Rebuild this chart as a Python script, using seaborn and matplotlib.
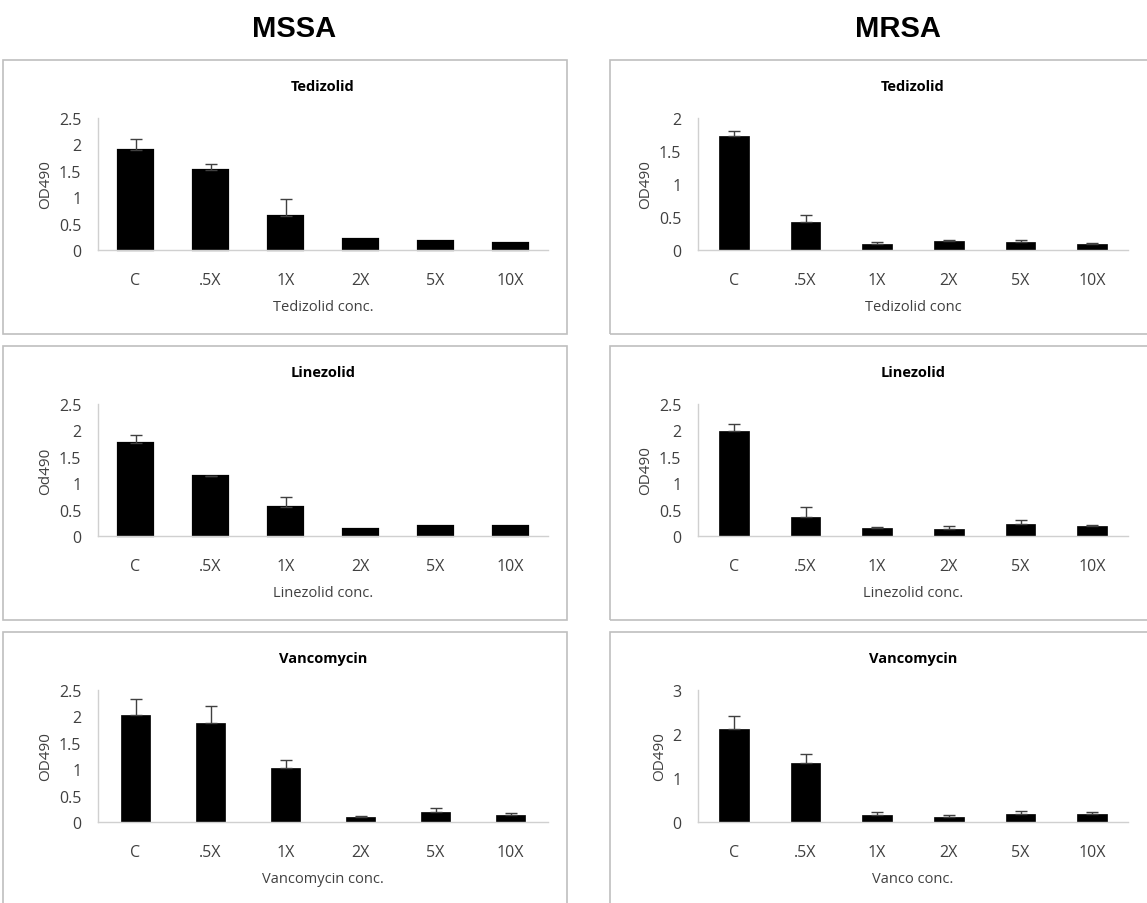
import numpy as np
import pandas as pd
import seaborn as sns
import matplotlib.pyplot as plt
from matplotlib.patches import Rectangle
from matplotlib.ticker import FuncFormatter, MultipleLocator

conc = ['C', '.5X', '1X', '2X', '5X', '10X']

# MSSA
mssa_ted = [1.89, 1.52, 0.65, 0.20, 0.165, 0.13]
mssa_ted_err = [0.21, 0.11, 0.31, 0.0, 0.0, 0.0]
mssa_lin = [1.76, 1.13, 0.54, 0.125, 0.19, 0.19]
mssa_lin_err = [0.16, 0.013, 0.19, 0.0, 0.0, 0.0]
mssa_van = [2.03, 1.87, 1.02, 0.095, 0.18, 0.13]
mssa_van_err = [0.30, 0.32, 0.145, 0.025, 0.085, 0.035]

# MRSA
mrsa_ted = [1.73, 0.42, 0.096, 0.137, 0.116, 0.096]
mrsa_ted_err = [0.08, 0.11, 0.02, 0.02, 0.03, 0.01]
mrsa_lin = [1.98, 0.36, 0.15, 0.13, 0.22, 0.183]
mrsa_lin_err = [0.145, 0.19, 0.025, 0.05, 0.09, 0.03]
mrsa_van = [2.11, 1.34, 0.16, 0.114, 0.175, 0.175]
mrsa_van_err = [0.29, 0.20, 0.06, 0.04, 0.07, 0.045]

sns.set_style('white')
plt.rcParams['font.family'] = ['Open Sans', 'DejaVu Sans']
plt.rcParams['text.color'] = 'black'

W, H = 1147, 904
fig = plt.figure(figsize=(W / 100, H / 100), dpi=100)


def fx(px):
    return px / W


def fy(py):
    return 1 - py / H


# panel frames (light gray boxes)
for x0, x1 in [(3, 567), (610, 1152)]:
    for y0, y1 in [(61, 335), (347, 621), (633, 910)]:
        fig.patches.append(Rectangle((fx(x0), fy(y1)), fx(x1 - x0), (y1 - y0) / H,
                                     transform=fig.transFigure, fill=False,
                                     edgecolor='#bfbfbf', linewidth=1.2, zorder=0))

for x, txt in [(294, 'MSSA'), (898, 'MRSA')]:
    fig.text(fx(x), fy(29), txt, ha='center', va='center', fontsize=21, fontweight='bold',
             color='black', family=['Liberation Sans Narrow', 'Liberation Sans', 'DejaVu Sans'])

panels = [
    # left px, right px, y0 px, top px, title, vals, errs, ylabel, xlabel, ymax, step, width, thick
    (98, 548, 251, 119, 'Tedizolid', mssa_ted, mssa_ted_err, 'OD490', 'Tedizolid conc.', 2.5, 0.5, 0.47, True),
    (98, 548, 537, 405, 'Linezolid', mssa_lin, mssa_lin_err, 'Od490', 'Linezolid conc.', 2.5, 0.5, 0.47, True),
    (98, 548, 823, 691, 'Vancomycin', mssa_van, mssa_van_err, 'OD490', 'Vancomycin conc.', 2.5, 0.5, 0.39, False),
    (698, 1128, 251, 119, 'Tedizolid', mrsa_ted, mrsa_ted_err, 'OD490', 'Tedizolid conc', 2.0, 0.5, 0.41, False),
    (698, 1128, 537, 405, 'Linezolid', mrsa_lin, mrsa_lin_err, 'OD490', 'Linezolid conc.', 2.5, 0.5, 0.41, False),
    (698, 1128, 823, 691, 'Vancomycin', mrsa_van, mrsa_van_err, 'OD490', 'Vanco conc.', 3.0, 1.0, 0.41, False),
]

for (l, r, y0, yt, title, vals, errs, ylab, xlab, ymax, step, width, thick) in panels:
    ax = fig.add_axes([fx(l), fy(y0), fx(r - l), (y0 - yt) / H])
    df = pd.DataFrame({'conc': conc, 'od': vals})
    sns.barplot(data=df, x='conc', y='od', color='black', width=width, ax=ax,
                edgecolor='black', linewidth=1.6 if thick else 0.5, saturation=1)
    for p in ax.patches:
        p.set_clip_on(False)
    e = np.array(errs)
    has = e > 0
    ax.errorbar(np.array(conc)[has], np.array(vals)[has],
                yerr=[np.zeros(has.sum()), e[has]], fmt='none',
                ecolor='#404040', elinewidth=1, capsize=4, capthick=1)
    ax.set_xlim(-0.5, 5.5)
    ax.set_ylim(0, ymax)
    ax.yaxis.set_major_locator(MultipleLocator(step))
    ax.yaxis.set_major_formatter(FuncFormatter(lambda v, pos: f'{v:g}'))
    ax.set_title(title, fontsize=10.5, fontweight='bold', pad=20, color='black')
    ax.set_ylabel(ylab, fontsize=11, labelpad=4, color='#404040')
    ax.set_xlabel(xlab, fontsize=10.5, labelpad=8, color='#404040')
    ax.tick_params(axis='both', length=0, labelsize=11.5, colors='#404040')
    ax.tick_params(axis='x', pad=16)
    ax.tick_params(axis='y', pad=12)
    sns.despine(ax=ax, top=True, right=True)
    for s in ['left', 'bottom']:
        ax.spines[s].set_color('#d0d0d0')
        ax.spines[s].set_linewidth(1)
    ax.patch.set_alpha(0)

fig.savefig('out.png', dpi=100)
